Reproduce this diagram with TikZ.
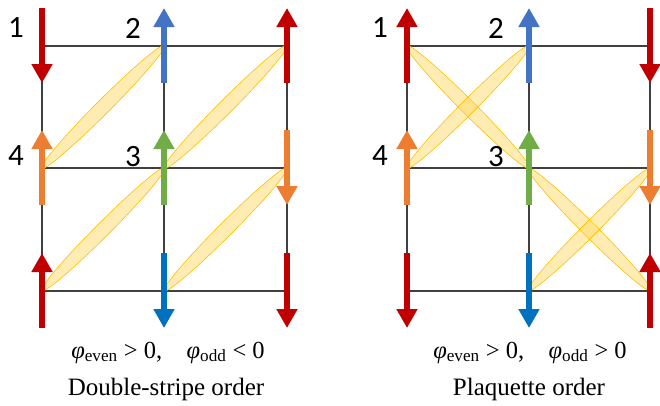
\documentclass[tikz,border=0pt]{standalone}
\usepackage{fontspec}
\setmainfont{Liberation Serif}
\newfontfamily\numfont{Carlito}
\usetikzlibrary{arrows.meta,calc}

\definecolor{spinred}{HTML}{C00000}
\definecolor{spinblue}{HTML}{4472C4}
\definecolor{spindeep}{HTML}{0070C0}
\definecolor{spingreen}{HTML}{70AD47}
\definecolor{spinorange}{HTML}{ED7D31}
\definecolor{bondfill}{HTML}{FFD966}
\definecolor{bondline}{HTML}{FFC000}

\begin{document}
\begin{tikzpicture}[x=1pt, y=-1pt,
    spin/.style={line width=6pt, -{Triangle[length=19pt,width=20pt]}},
    latt/.style={draw=black!75, line width=1.3pt},
    bond/.style={draw=bondline, line width=0.6pt, fill=bondfill, fill opacity=0.5},
    num/.style={font=\numfont\fontsize{31}{31}\selectfont, inner sep=0pt},
    captext/.style={font=\fontsize{25}{27}\selectfont, anchor=base, inner sep=0pt},
    formula/.style={font=\fontsize{24.5}{26}\selectfont, anchor=base, inner sep=0pt}]
  \useasboundingbox (0,0) rectangle (660,405);

  % sites, left panel
  \coordinate (a11) at (42,46);  \coordinate (a12) at (164,46);  \coordinate (a13) at (287,46);
  \coordinate (a21) at (42,168); \coordinate (a22) at (164,168); \coordinate (a23) at (287,168);
  \coordinate (a31) at (42,291); \coordinate (a32) at (164,291); \coordinate (a33) at (287,291);
  % sites, right panel
  \coordinate (b11) at (407,46);  \coordinate (b12) at (529,46);  \coordinate (b13) at (650,46);
  \coordinate (b21) at (407,168); \coordinate (b22) at (529,168); \coordinate (b23) at (650,168);
  \coordinate (b31) at (407,291); \coordinate (b32) at (529,291); \coordinate (b33) at (650,291);

  % lattice
  \foreach \p in {a,b} {
    \foreach \r in {1,2,3} \draw[latt] (\p\r1) -- (\p\r3);
    \foreach \c in {1,2,3} \draw[latt] (\p1\c) -- (\p3\c);
  }

  % singlet bonds
  \foreach \s/\t/\ang in {a21/a12/45, a22/a13/45, a31/a22/45, a32/a23/45,
                          b11/b22/-45, b12/b21/45, b22/b33/-45, b23/b32/45}
    \draw[bond] ($(\s)!0.5!(\t)$) ellipse[x radius=87pt, y radius=7pt, rotate=\ang];

  % up / down spins
  \newcommand\upspin[2]{\draw[spin, #1] ([yshift=-37pt]#2) -- ([yshift=38pt]#2);}
  \newcommand\dnspin[2]{\draw[spin, #1] ([yshift=38pt]#2) -- ([yshift=-37pt]#2);}

  \dnspin{spinred}{a11}    \upspin{spinblue}{a12}  \upspin{spinred}{a13}
  \upspin{spinorange}{a21} \upspin{spingreen}{a22} \dnspin{spinorange}{a23}
  \upspin{spinred}{a31}    \dnspin{spindeep}{a32}  \dnspin{spinred}{a33}

  \upspin{spinred}{b11}    \upspin{spinblue}{b12}  \dnspin{spinred}{b13}
  \upspin{spinorange}{b21} \upspin{spingreen}{b22} \dnspin{spinorange}{b23}
  \dnspin{spinred}{b31}    \dnspin{spindeep}{b32}  \upspin{spinred}{b33}

  % site labels
  \node[num] (l1) at (16,28) {1};
  \node[num] (l2) at (133,28) {2};
  \node[num] (l4) at (16,156) {4};
  \node[num] (l3) at (133,157) {3};
  \node[num] (r1) at (380,28) {1};
  \node[num] (r2) at (496,28) {2};
  \node[num] (r4) at (380,156) {4};
  \node[num] (r3) at (496,157) {3};

  % captions
  \node[formula] (fa) at (168,358) {\textit{φ}\textsubscript{even} > 0,\hspace{1em}\textit{φ}\textsubscript{odd} < 0};
  \node[captext] (ta) at (166,395) {Double-stripe order};
  \node[formula] (fb) at (530,358) {\textit{φ}\textsubscript{even} > 0,\hspace{1em}\textit{φ}\textsubscript{odd} > 0};
  \node[captext] (tb) at (529,395) {Plaquette order};
\end{tikzpicture}
\end{document}
